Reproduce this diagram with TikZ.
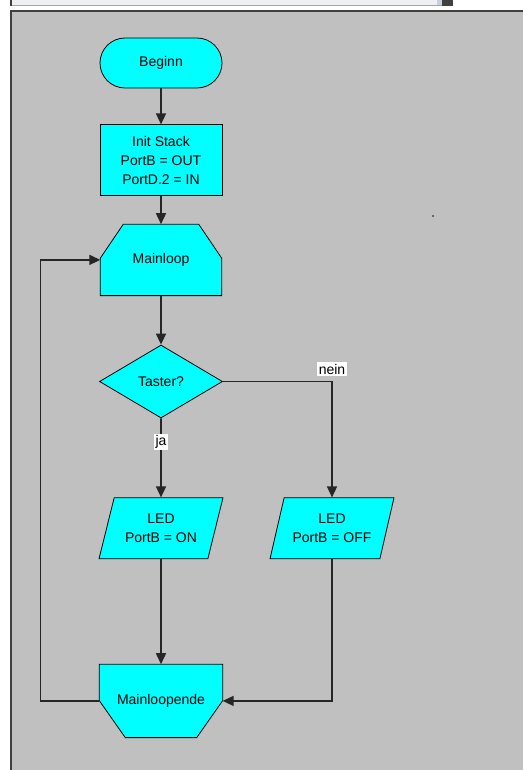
\documentclass[tikz,border=0pt]{standalone}
\usepackage{fontspec}
\setmainfont{Liberation Sans}
\usetikzlibrary{positioning, shapes.geometric, arrows.meta, backgrounds}
\definecolor{panelgray}{HTML}{C0C0C0}
\definecolor{boxcyan}{HTML}{00FFFF}
\definecolor{framegray}{HTML}{404040}
\definecolor{barfill}{HTML}{EEF0F4}
\definecolor{barblue}{HTML}{C8D0DC}

\begin{document}
\begin{tikzpicture}[x=1pt, y=-1pt, >={Triangle[length=11pt, width=10pt]},
    font=\fontsize{14}{19}\selectfont,
    base/.style={draw=black, line width=0.8pt, fill=boxcyan, align=center, inner sep=0pt},
    terminal/.style={base, rectangle, rounded corners=25pt, minimum width=122pt, minimum height=50pt},
    process/.style={base, rectangle, minimum width=122pt, minimum height=71pt},
    loopbox/.style={rectangle, align=center, inner sep=0pt, minimum width=121pt, minimum height=71pt},
    outline/.style={draw=black, line width=0.8pt, fill=boxcyan},
    decision/.style={base, diamond, minimum width=123pt, minimum height=73pt},
    io/.style={base, trapezium, trapezium left angle=68, trapezium right angle=112, trapezium stretches=true,
        minimum width=124pt, minimum height=61pt},
    flow/.style={->, line width=1.6pt, draw=black!85},
    tag/.style={fill=white, inner sep=1.5pt}]
\useasboundingbox (0,0) rectangle (523,770);

% window frame
\begin{scope}[on background layer]
\fill[barfill] (12,0) rectangle (437,5.5);
\fill[barblue] (437,0) rectangle (442,6);
\fill[framegray] (10,0) rectangle (12,6);
\fill[framegray] (442,0) rectangle (453,6);
\draw[black!35, line width=0.6pt] (12,5.7) -- (442,5.7);
\fill[panelgray] (10,10) rectangle (523,770);
\draw[framegray, line width=2pt] (11,770) -- (11,11) -- (523,11);
\fill[black!60] (432,215) rectangle (434,217);
\end{scope}

% flowchart
\node[terminal] (beginn) at (161,63) {Beginn};
\node[process, below=36pt of beginn] (init) {Init Stack\\PortB = OUT\\PortD.2 = IN};
\node[loopbox, below=28pt of init] (mainloop) {Mainloop};
\node[decision, below=49pt of mainloop] (taster) {Taster?};
\node[io, below=79pt of taster] (ledon) {LED\\PortB = ON};
\node[io] (ledoff) at ([xshift=171pt]ledon.center) {LED\\PortB = OFF};
\node[loopbox, minimum width=123pt, minimum height=73pt, below=105pt of ledon] (mloopend) {Mainloopende};

% loop limit outlines
\begin{scope}[on background layer]
\path[outline] (mainloop.south west) -- ([yshift=-34pt]mainloop.north west)
    -- ([xshift=23pt]mainloop.north west) -- ([xshift=-23pt]mainloop.north east)
    -- ([yshift=-34pt]mainloop.north east) -- (mainloop.south east) -- cycle;
\path[outline] (mloopend.north west) -- (mloopend.north east)
    -- ([yshift=37pt]mloopend.south east) -- ([xshift=-26pt]mloopend.south east)
    -- ([xshift=26pt]mloopend.south west) -- ([yshift=37pt]mloopend.south west) -- cycle;
\end{scope}

\draw[flow] (beginn) -- (init);
\draw[flow] (init) -- (mainloop);
\draw[flow] (mainloop) -- (taster);
\draw[flow] (taster) -- node[pos=0.3, tag] {ja} (ledon);
\draw[flow] (taster.east) -| node[pos=0.5, tag, above=5pt] {nein} (ledoff.north);
\draw[flow] (ledon) -- (mloopend);
\draw[flow] (ledoff.south) |- (mloopend.east);
\draw[flow] (mloopend.west) -- ++(-59,0) |- (mainloop.west);

\end{tikzpicture}
\end{document}
